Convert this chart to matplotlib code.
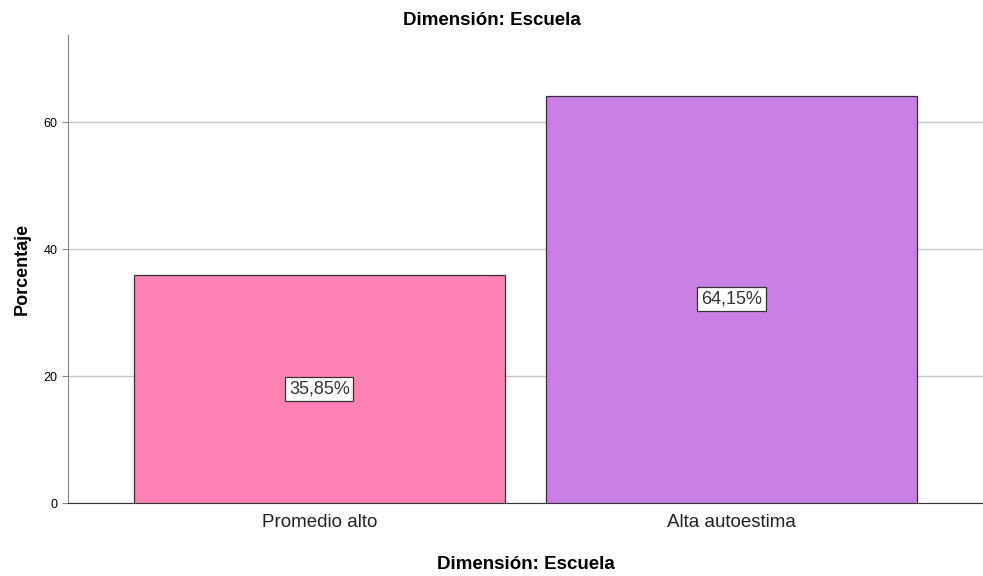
import matplotlib
matplotlib.use('Agg')
import matplotlib.pyplot as plt

plt.rcParams['font.family'] = ['Liberation Sans', 'DejaVu Sans']

categories = ['Promedio alto', 'Alta autoestima']
percentages = [35.85, 64.15]
labels = ['35,85%', '64,15%']
colors = ['#FF82B4', '#C97FE3']

fig = plt.figure(figsize=(9.83, 5.76), dpi=100)
ax = fig.add_axes([0.0692, 0.1267, 0.9308, 0.8125])

x = list(range(len(categories)))
ax.bar(x, percentages, width=0.9, color=colors, edgecolor='#333333', linewidth=0.9, zorder=3)

for xi, val, lab in zip(x, percentages, labels):
    ax.text(xi, val / 2, lab, ha='center', va='center', fontsize=13, color='#333333', zorder=4,
            bbox=dict(boxstyle='square,pad=0.2', facecolor='white', edgecolor='#333333', linewidth=0.9))

ax.set_xlim(-0.61, 1.61)
ax.set_ylim(0, 73.7)
ax.set_yticks([0, 20, 40, 60])
ax.set_xticks(x)
ax.set_xticklabels(categories, fontsize=13.5, color='#222222')
ax.tick_params(axis='y', labelsize=9, length=4, color='#888888')
ax.tick_params(axis='x', length=0, pad=8)
ax.yaxis.grid(True, color='#C8C8C8', linewidth=1, zorder=0)

for side in ['top', 'right']:
    ax.spines[side].set_visible(False)
ax.spines['left'].set_color('#888888')
ax.spines['bottom'].set_color('#333333')

fig.suptitle('Dimensión: Escuela', x=0.5, y=0.98, fontsize=13.5, fontweight='bold', va='top')
ax.set_xlabel('Dimensión: Escuela', fontsize=13.5, fontweight='bold', labelpad=18)
ax.set_ylabel('Porcentaje', fontsize=13, fontweight='bold', labelpad=9)

fig.savefig('out.png', dpi=100)
